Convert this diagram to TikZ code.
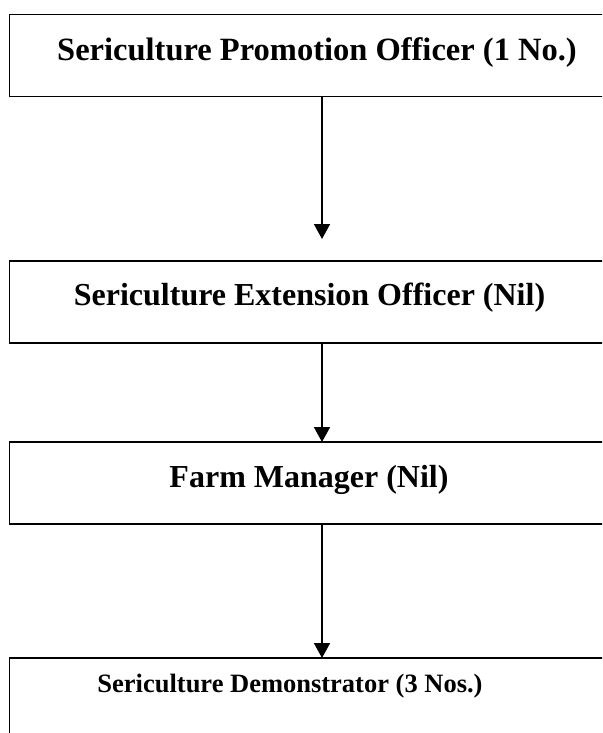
\documentclass[tikz,border=0pt]{standalone}
\usepackage{fontspec}
\setmainfont{Liberation Serif}
\usetikzlibrary{arrows.meta}
\begin{document}
\begin{tikzpicture}[x=1pt,y=-1pt,
  post/.style={draw=black, line width=1.6pt, minimum width=625pt, minimum height=82pt,
               anchor=north west, inner sep=0pt, outer sep=0pt},
  label/.style={anchor=base, inner sep=0pt, font=\bfseries},
  link/.style={line width=1.8pt, -{Triangle[width=16pt,length=15pt]}}]
  \useasboundingbox (0,0) rectangle (602,733);
  \clip (0,0) rectangle (602,733);
  % posts (right edges run past the page)
  \node[post] (b1) at (9.5,14.7) {};
  \node[post] (b2) at (9.5,261) {};
  \node[post] (b3) at (9.5,442) {};
  \node[post] (b4) at (9.5,658) {};
  % titles
  \node[label] (t1) at (317,61) {\fontsize{32.5}{38}\selectfont Sericulture Promotion Officer (1 No.)};
  \node[label] (t2) at (309.5,305) {\fontsize{32}{38}\selectfont Sericulture Extension Officer (Nil)};
  \node[label] (t3) at (309,487) {\fontsize{32}{38}\selectfont Farm Manager (Nil)};
  \node[label] (t4) at (290,692) {\fontsize{26.5}{32}\selectfont Sericulture Demonstrator (3 Nos.)};
  % reporting lines
  \draw[link] (b1.south) -- ([yshift=22pt]b2.north);
  \draw[link] (b2.south) -- (b3.north);
  \draw[link] (b3.south) -- (b4.north);
\end{tikzpicture}
\end{document}
